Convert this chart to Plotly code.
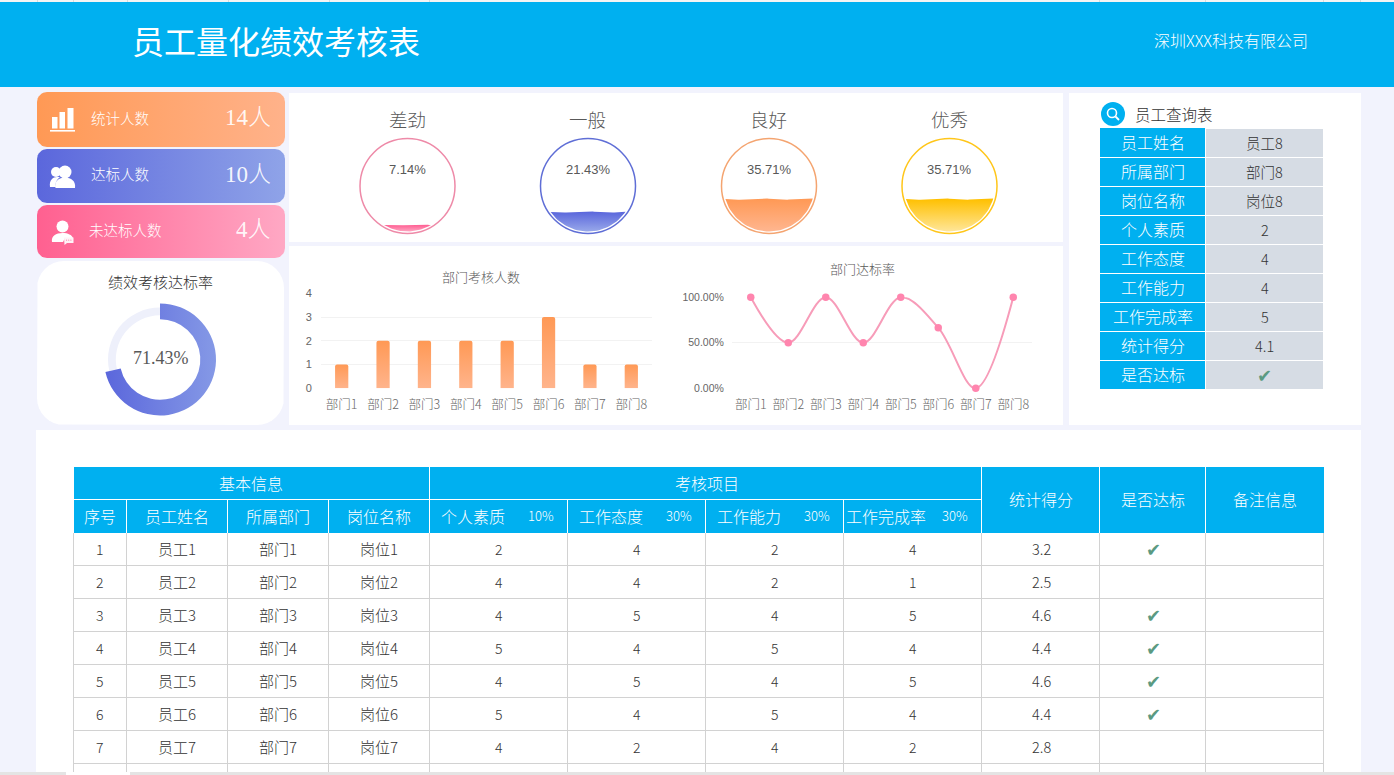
import math
import plotly.graph_objects as go

# ---- data ----
departments = ["部门1", "部门2", "部门3", "部门4", "部门5", "部门6", "部门7", "部门8"]
dept_headcount = [1, 2, 2, 2, 2, 3, 1, 1]
dept_pass_rate = [1.0, 0.5, 1.0, 0.5, 1.0, 0.6667, 0.0, 1.0]

summary_labels = ["统计人数", "达标人数", "未达标人数"]
summary_values = ["14人", "10人", "4人"]
pass_rate = 71.43

grade_names = ["差劲", "一般", "良好", "优秀"]
grade_shares = [7.14, 21.43, 35.71, 35.71]

row_no = [1, 2, 3, 4, 5, 6, 7]
staff = ["员工1", "员工2", "员工3", "员工4", "员工5", "员工6", "员工7"]
dept = ["部门1", "部门2", "部门3", "部门4", "部门5", "部门6", "部门7"]
post = ["岗位1", "岗位2", "岗位3", "岗位4", "岗位5", "岗位6", "岗位7"]
quality = [2, 4, 4, 5, 4, 5, 4]
attitude = [4, 4, 5, 4, 5, 4, 2]
ability = [2, 2, 4, 5, 4, 5, 4]
completion = [4, 1, 5, 4, 5, 4, 2]
score = ["3.2", "2.5", "4.6", "4.4", "4.6", "4.4", "2.8"]
passed = [True, False, True, True, True, True, False]

query_labels = ["员工姓名", "所属部门", "岗位名称", "个人素质", "工作态度", "工作能力", "工作完成率", "统计得分", "是否达标"]
query_values = ["员工8", "部门8", "岗位8", "2", "4", "4", "5", "4.1", "✔"]

sub_headers = ["序号", "员工姓名", "所属部门", "岗位名称"]
weighted_headers = ["个人素质", "工作态度", "工作能力", "工作完成率"]
weights = ["10%", "30%", "30%", "30%"]
tail_headers = ["统计得分", "是否达标", "备注信息"]

# ---- page geometry and palette ----
W, H = 1394, 775
CYAN = "#00B0F0"
PAGE = "#F2F3FD"
GRID = "#D2D2D2"
CJK = "Noto Sans CJK SC"
SANS = "Liberation Sans, Noto Sans CJK SC"
SERIF = "Liberation Serif, Noto Sans CJK SC"
BODY = "#333333"

col_x = [74, 127, 228, 329, 430, 568, 706, 844, 982, 1100, 1206, 1324]
row_y = [533 + 33 * i for i in range(9)]

fig = go.Figure()
shapes, notes = [], []


def rect(x0, y0, x1, y1, fill, layer="below"):
    shapes.append(dict(type="rect", xref="x", yref="y", x0=x0, y0=y0, x1=x1, y1=y1,
                       fillcolor=fill, layer=layer, line=dict(width=0)))


def rule(x0, y0, x1, y1, color, width=1, layer="below"):
    shapes.append(dict(type="line", xref="x", yref="y", x0=x0, y0=y0, x1=x1, y1=y1,
                       layer=layer, line=dict(color=color, width=width)))


def circle(cx, cy, r, fill="rgba(0,0,0,0)", line=None, lw=0, layer="above"):
    shapes.append(dict(type="circle", xref="x", yref="y", x0=cx - r, y0=cy - r, x1=cx + r, y1=cy + r,
                       fillcolor=fill, layer=layer, line=dict(color=line or "rgba(0,0,0,0)", width=lw)))


def blob(path, fill="white"):
    shapes.append(dict(type="path", xref="x", yref="y", path=path, fillcolor=fill,
                       layer="above", line=dict(width=0)))


def label(x, y, text, size=14, color=BODY, family=CJK, anchor="center", weight=400):
    # CJK glyphs sit slightly low in their line box
    nudge = 1 + size * 0.03 if family == CJK else 0
    notes.append(dict(xref="x", yref="y", x=x, y=y - nudge, text=text, showarrow=False, xanchor=anchor,
                      yanchor="middle", font=dict(size=size, color=color, family=family, weight=weight)))


def rounded(x0, y0, x1, y1, r):
    """Outline of a rounded rectangle as lists of x and y."""
    xs, ys = [], []
    corners = [(x1 - r, y0 + r, -90), (x1 - r, y1 - r, 0), (x0 + r, y1 - r, 90), (x0 + r, y0 + r, 180)]
    for cx, cy, start in corners:
        for k in range(9):
            a = math.radians(start + k * 90 / 8)
            xs.append(cx + r * math.cos(a))
            ys.append(cy + r * math.sin(a))
    return xs + xs[:1], ys + ys[:1]


def gradient_patch(xs, ys, kind, c0, c1, start, stop):
    fig.add_trace(go.Scatter(x=xs, y=ys, mode="lines", fill="toself", line=dict(width=0),
                             fillgradient=dict(type=kind, colorscale=[[0, c0], [1, c1]], start=start, stop=stop),
                             hoverinfo="skip", showlegend=False, xaxis="x", yaxis="y"))


# ---- page frame ----
rect(0, 0, W, H, PAGE)
rect(0, 0, W, 2, "#F4F4F4")
for x in [37, 73, 127, 228, 329, 429, 1099, 1205, 1323, 1360]:
    rule(x + 0.5, 0, x + 0.5, 2, "#DADADA")
rect(0, 2, W, 87, CYAN)
rect(289, 93, 1063, 242, "white")
rect(289, 246, 1063, 425, "white")
rect(1069, 93, 1361, 425, "white")
rect(36, 430, 1361, H, "white")
label(129.5, 42, "员工量化绩效考核表", size=32, color="white", anchor="left")
label(1152, 41, "深圳XXX科技有限公司", size=16, color="white", anchor="left", weight=300)

# ---- summary cards ----
card_boxes = [(92, 147), (149, 203), (205, 258)]
card_colors = [("#FF9955", "#FFB28A"), ("#5B67DC", "#8FA3E8"), ("#FF6090", "#FFA8C4")]
label_centers = [120, 120, 125.5]
for (top, bottom), (c0, c1), name, value, lx in zip(card_boxes, card_colors, summary_labels, summary_values, label_centers):
    xs, ys = rounded(37, top, 285, bottom, 10)
    gradient_patch(xs, ys, "horizontal", c0, c1, 37, 285)
    label(lx, (top + bottom) / 2 - 1, name, size=14.5, color="white", weight=300)
    label(272.5, (top + bottom) / 2 - 2, value, size=23, color="rgba(255,255,255,0.92)", family=SERIF, anchor="right", weight=300)

# bar-chart glyph
rect(52, 117, 57.5, 128.5, "white", layer="above")
rect(59.5, 112, 65, 128.5, "white", layer="above")
rect(67.5, 108, 73.5, 128.5, "white", layer="above")
rect(50, 130, 75, 131.6, "white", layer="above")
# two people glyph
circle(56, 172, 5, fill="white")
blob("M50,187 C49,180 53,177 57,177 L60,177 C56,180 55,184 56,187 Z")
circle(65, 172, 6.5, fill="white")
blob("M55.5,188 C54,181 59,177.5 65,177.5 C71,177.5 76,181 75,188 Z")
# person with speech bubble glyph
circle(62.5, 226.5, 6, fill="white")
blob("M52,242 C51,236 56,233 62.5,233 C68,233 72,235 73,238 L65,238 L63,242 Z")
blob("M64,237.5 L73.5,237.5 L73.5,243 L67,243 L64.5,245 Z", fill="#FFF4F8")
for dot_x in (66.5, 68.7, 70.9):
    circle(dot_x, 240.2, 0.6, fill="#FF8FB2")

# ---- pass-rate donut ----
xs, ys = rounded(37, 261, 284, 425, 27)
fig.add_trace(go.Scatter(x=xs, y=ys, mode="lines", fill="toself", fillcolor="white", line=dict(width=0),
                         hoverinfo="skip", showlegend=False, xaxis="x", yaxis="y"))
label(160.5, 283, "绩效考核达标率", size=15, weight=300)
label(160.5, 358, f"{pass_rate:.2f}%", size=18, color="#595959", family=SERIF)


def pie_domain(cx, cy, r):
    return dict(x=[(cx - r) / W, (cx + r) / W], y=[1 - (cy + r) / H, 1 - (cy - r) / H])


fig.add_trace(go.Pie(values=[pass_rate, 100 - pass_rate], hole=0.85, sort=False, direction="clockwise",
                     rotation=0, domain=pie_domain(160, 359.5, 52), textinfo="none", hoverinfo="skip",
                     marker=dict(colors=["rgba(0,0,0,0)", "#EEF0FB"], line=dict(width=0)), showlegend=False))
fig.add_trace(go.Pie(values=[pass_rate, 100 - pass_rate], hole=0.72, sort=False, direction="clockwise",
                     rotation=0, domain=pie_domain(160, 359.5, 56), textinfo="none", hoverinfo="skip",
                     marker=dict(colors=["#5B67DC", "rgba(0,0,0,0)"], line=dict(width=0)), showlegend=False))

# ---- grade gauges: the liquid height follows each share ----
gauge_x = [407.5, 588, 769, 949.5]
GAUGE_Y, RING_R, FILL_R = 186, 47.5, 45.5
ring_colors = ["#EE8AA8", "#5F6ED6", "#F4A470", "#FFC61A"]
fill_colors = [("#FF5F93", "#FFA6C2"), ("#5B67DC", "#98A8EA"), ("#FF9955", "#FFB690"), ("#FFC000", "#FFE699")]
for cx, name, share, ring, (c0, c1) in zip(gauge_x, grade_names, grade_shares, ring_colors, fill_colors):
    label(cx - 0.5, 121, name, size=18.5, color="#595959", weight=300)
    label(cx, 169, f"{share:.2f}%", size=13, color="#595959", family=SANS)
    circle(cx, GAUGE_Y, RING_R, line=ring, lw=1.5)
    level = GAUGE_Y + FILL_R - 2 * FILL_R * share / 100
    half = math.sqrt(max(FILL_R ** 2 - (level - GAUGE_Y) ** 2, 1))
    swell = min(1.3, half / 60)
    wave_x = [cx - half + 2 * half * k / 48 for k in range(49)]
    wave_y = [level + swell * math.sin((x - cx + half) / 7.5) for x in wave_x]
    a0 = math.atan2(wave_y[-1] - GAUGE_Y, half)
    a1 = math.pi - math.atan2(wave_y[0] - GAUGE_Y, half)
    arc_a = [a0 + (a1 - a0) * k / 40 for k in range(41)]
    xs = wave_x + [cx + FILL_R * math.cos(a) for a in arc_a]
    ys = wave_y + [GAUGE_Y + FILL_R * math.sin(a) for a in arc_a]
    gradient_patch(xs + xs[:1], ys + ys[:1], "vertical", c0, c1, level, GAUGE_Y + FILL_R)

# ---- department charts ----
axis_font = dict(size=12.5, color="#666666", family=CJK, weight=300)
label(481, 278, "部门考核人数", size=13, color="#595959", weight=300)
label(862, 270, "部门达标率", size=13, color="#595959", weight=300)
fig.add_trace(go.Bar(x=departments, y=dept_headcount, marker=dict(color="#FF9955", line=dict(width=0), cornerradius=2),
                     width=0.32, hoverinfo="skip", showlegend=False, xaxis="x2", yaxis="y2"))
fig.add_trace(go.Scatter(x=departments, y=dept_pass_rate, mode="lines+markers",
                         line=dict(color="#F79CB9", width=2, shape="spline", smoothing=1.0),
                         marker=dict(color="#FF85AE", size=7.5), cliponaxis=False,
                         hoverinfo="skip", showlegend=False, xaxis="x3", yaxis="y3"))

# ---- staff lookup panel ----
circle(1113, 114, 12, fill=CYAN)
circle(1112, 113, 4.5, line="white", lw=1.6)
rule(1115.5, 116.5, 1119, 120, "white", width=1.8, layer="above")
label(1133, 115, "员工查询表", size=15.5, anchor="left", weight=300)
for i, (name, val) in enumerate(zip(query_labels, query_values)):
    top = 129 + 29 * i
    rect(1100, top - (1 if i == 0 else 0), 1205, top + 28, CYAN)
    rect(1206, top, 1323, top + 28, "#D6DCE4")
    label(1152.5, top + 14.5, name, size=16, color="white", weight=300)
    if val == "✔":
        label(1264.5, top + 14.5, val, size=18, color="#5B9A82", family="DejaVu Sans")
    else:
        label(1264.5, top + 14.5, val, size=14.5, family=CJK, weight=300)

# ---- appraisal table ----
rect(col_x[0], 467, col_x[-1], 533, CYAN)
for x in col_x[4:5] + col_x[8:-1]:
    rule(x - 0.5, 467, x - 0.5, 533, "white")
for x in col_x[1:4] + col_x[5:8]:
    rule(x - 0.5, 500, x - 0.5, 533, "white")
rule(col_x[0], 499.5, col_x[8], 499.5, "white")
label((col_x[0] + col_x[4]) / 2 - 1, 484, "基本信息", size=16, color="white", weight=300)
label((col_x[4] + col_x[8]) / 2 + 1, 484, "考核项目", size=16, color="white", weight=300)
for i, text in enumerate(sub_headers):
    label((col_x[i] + col_x[i + 1]) / 2 - 1, 517, text, size=16, color="white", weight=300)
name_centers = [472.5, 610.5, 748.5, 886]
for i, (text, weight) in enumerate(zip(weighted_headers, weights)):
    label(name_centers[i], 517, text, size=16, color="white", weight=300)
    label(col_x[5 + i] - 27, 517, weight, size=13, color="white", weight=300)
for i, text in enumerate(tail_headers):
    label((col_x[8 + i] + col_x[9 + i]) / 2 - 0.5, 500, text, size=16, color="white", weight=300)

for y in row_y[1:]:
    rule(col_x[0], y - 0.5, col_x[-1], y - 0.5, GRID)
for x in col_x:
    rule(x - 0.5, 533, x - 0.5, 772, GRID)

columns = [row_no, staff, dept, post, quality, attitude, ability, completion]
for c, values in enumerate(columns):
    cx = (col_x[c] + col_x[c + 1]) / 2 - (1 if c < 4 else 0)
    for r, v in enumerate(values):
        label(cx, row_y[r] + 17, str(v), size=15 if c in (1, 2, 3) else 14, weight=300)
for r, (s, ok) in enumerate(zip(score, passed)):
    label((col_x[8] + col_x[9]) / 2, row_y[r] + 17, s, size=14.5, weight=300)
    if ok:
        label((col_x[9] + col_x[10]) / 2, row_y[r] + 16, "✔", size=18, color="#5B9A82", family="DejaVu Sans")

# window scrollbar strip along the lower edge
rect(0, 772, 66, H, "#E4E4E4", layer="above")
rect(130, 772, W, H, "#E4E4E4", layer="above")


def x_domain(a, b):
    return [a / W, b / W]


def y_domain(top, bottom):
    return [1 - bottom / H, 1 - top / H]


hidden = dict(visible=False, fixedrange=True, automargin=False)
no_tick = dict(ticks="outside", tickcolor="rgba(0,0,0,0)", zeroline=False, automargin=False)
fig.update_layout(
    template="none",
    width=W, height=H, margin=dict(l=0, r=0, t=0, b=0, pad=0), autosize=False,
    paper_bgcolor=PAGE, plot_bgcolor="rgba(0,0,0,0)", hovermode=False, showlegend=False,
    shapes=shapes, annotations=notes, font=dict(family=CJK),
    xaxis=dict(range=[0, W], domain=[0, 1], **hidden),
    yaxis=dict(range=[H, 0], domain=[0, 1], **hidden),
    xaxis2=dict(domain=x_domain(321, 652), anchor="y2", range=[-0.5, 7.5], tickfont=axis_font, showline=False,
                showgrid=False, ticklen=5, **no_tick),
    yaxis2=dict(domain=y_domain(293.3, 388.3), anchor="x2", range=[0, 4], tickvals=[0, 1, 2, 3, 4],
                tickfont=dict(size=11, color="#666666", family="Liberation Sans"), gridcolor="#F2F2F2", gridwidth=1,
                showline=False, ticklen=6, **no_tick),
    xaxis3=dict(domain=x_domain(732, 1032), anchor="y3", range=[-0.5, 7.5], tickfont=axis_font, showline=False,
                showgrid=False, ticklen=5, **no_tick),
    yaxis3=dict(domain=y_domain(297.3, 388.3), anchor="x3", range=[0, 1], tickvals=[0, 0.5, 1], tickformat=".2%",
                tickfont=dict(size=10.5, color="#666666", family="Liberation Sans"), gridcolor="#F2F2F2",
                showline=False, ticklen=5, **no_tick),
)

# SVG gradients for the bars and the donut arc
paint_script = """
var gd = document.getElementById('{plot_id}');
function paint() {
  var svg = gd.querySelector('svg.main-svg');
  var ns = 'http://www.w3.org/2000/svg';
  var defs = document.createElementNS(ns, 'defs');
  function grad(id, x2, y2, a, b) {
    var g = document.createElementNS(ns, 'linearGradient');
    g.setAttribute('id', id);
    g.setAttribute('x1', '0'); g.setAttribute('y1', '0');
    g.setAttribute('x2', x2); g.setAttribute('y2', y2);
    [[0, a], [1, b]].forEach(function (s) {
      var st = document.createElementNS(ns, 'stop');
      st.setAttribute('offset', s[0]);
      st.setAttribute('stop-color', s[1]);
      g.appendChild(st);
    });
    defs.appendChild(g);
  }
  grad('barFade', '0', '1', '#FF9955', '#FFB48C');
  grad('arcFade', '1', '0', '#5B67DC', '#8599E6');
  svg.appendChild(defs);
  gd.querySelectorAll('.barlayer .point path').forEach(function (p) {
    p.style.fill = 'url(#barFade)';
  });
  gd.querySelectorAll('.pielayer .slice path').forEach(function (p) {
    if (p.style.fill === 'rgb(91, 103, 220)') p.style.fill = 'url(#arcFade)';
  });
}
paint();
"""

fig.write_html("out.html", post_script=paint_script, config=dict(displayModeBar=False))
